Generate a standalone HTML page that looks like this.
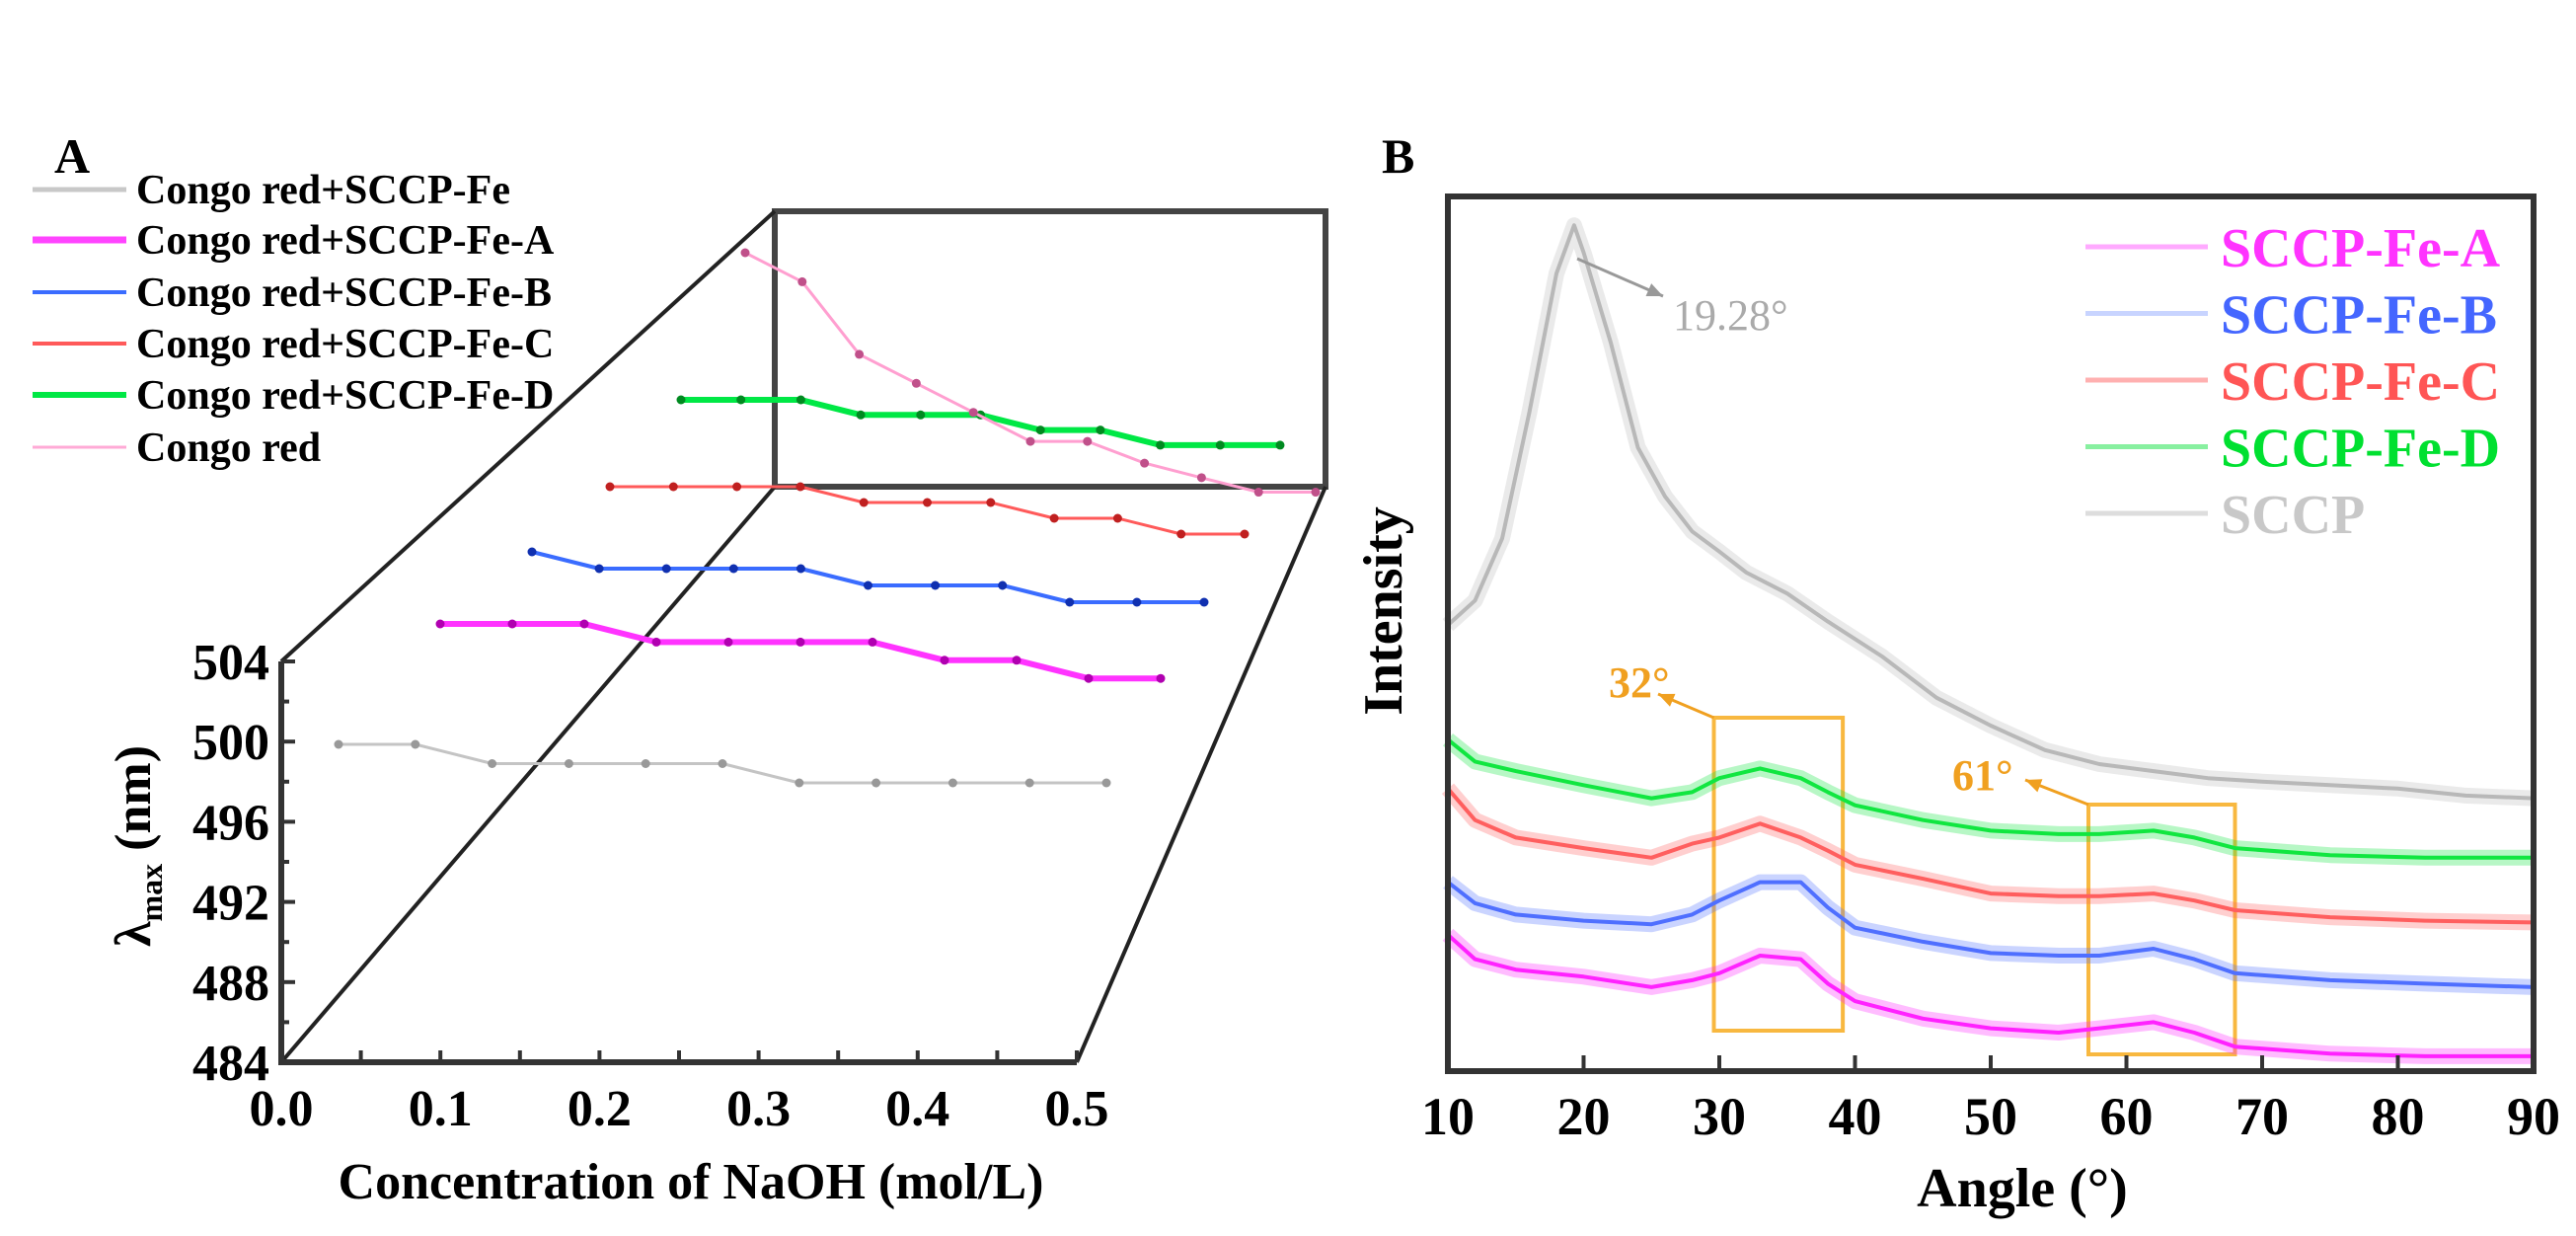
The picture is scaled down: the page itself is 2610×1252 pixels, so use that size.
<!DOCTYPE html>
<html><head><meta charset="utf-8"><style>
html,body{margin:0;padding:0;background:#fff;}
svg{display:block;font-family:"Liberation Serif",serif;font-weight:bold;}
</style></head><body>
<svg id="fig" width="2610" height="1252" viewBox="0 0 2610 1252">
<text x="55" y="175" font-size="50">A</text>
<text x="1400" y="175" font-size="50">B</text>
<g id="pa"></g>
<g id="pb"></g>
</svg>
<script>
// ---------- Panel A data ----------
const concentrations = [0,0.05,0.10,0.15,0.20,0.25,0.30,0.35,0.40,0.45,0.50];
const seriesNamesA = ["Congo red+SCCP-Fe","Congo red+SCCP-Fe-A","Congo red+SCCP-Fe-B","Congo red+SCCP-Fe-C","Congo red+SCCP-Fe-D","Congo red"];
const valsFe  = [500,500,499,499,499,499,498,498,498,498,498];
const valsFeA = [506,506,506,505,505,505,505,504,504,503,503];
const valsFeB = [507,506,506,506,506,505,505,505,504,504,504];
const valsFeC = [507,507,507,507,506,506,506,505,505,504,504];
const valsFeD = [508,508,508,507,507,507,506,506,505,505,505];
const valsCR  = [513,511,506,504,502,500,500,498.5,497.5,496.5,496.5];
const yTicksA = [484,488,492,496,500,504];
const xTicksA = [0,0.1,0.2,0.3,0.4,0.5];

// ---------- Panel B data ----------
const anglesSCCP = [10,12,14,16,18,19.3,20,22,24,26,28,30,32,35,38,42,46,50,54,58,62,66,70,75,80,85,90];
const intSCCP = [510,538,609,753,912,967,936,833,713,657,617,594,570,546,514,474,427,395,367,351,343,335,331,327,323,315,312];
const anglesFe = [10,12,15,20,25,28,30,33,36,38,40,45,50,55,58,62,65,68,75,82,90];
const intFeD = [379,354,343,327,312,319,335,346,335,319,304,287,275,271,271,275,267,255,247,244,244];
const intFeC = [323,287,267,255,244,260,267,283,267,252,236,220,203,200,200,203,195,184,176,172,170];
const intFeB = [216,192,179,172,168,179,195,216,216,187,164,148,135,132,132,140,128,112,104,100,96];
const intFeA = [156,128,116,108,96,104,112,132,128,100,80,60,49,44,49,56,44,28,20,17,17];
const xTicksB = [10,20,30,40,50,60,70,80,90];
const seriesNamesB = ["SCCP-Fe-A","SCCP-Fe-B","SCCP-Fe-C","SCCP-Fe-D","SCCP"];

const NS="http://www.w3.org/2000/svg";
function mk(parent,tag,attrs,text){const e=document.createElementNS(NS,tag);for(const k in attrs)e.setAttribute(k,attrs[k]);if(text!==undefined)e.textContent=text;parent.appendChild(e);return e;}

// ===== Panel A =====
const pa=document.getElementById('pa');
const AX0=285,AX1=1091,AY0=1076,AY1=670;
const axA=v=>AX0+(v-0)/0.5*(AX1-AX0);
const ayA=v=>AY0-(v-484)/20*(AY0-AY1);
const BF={l:785,r:1343,t:214,b:493};
let e;
e=mk(pa,'path',{d:`M${BF.l},${BF.b} L${BF.l},${BF.t} L${BF.r},${BF.t} L${BF.r},${BF.b} L${BF.l},${BF.b}`,fill:'none',stroke:'#444',"stroke-width":6});


e=mk(pa,'path',{d:`M${AX0},${AY1} L${BF.l},${BF.t} M${AX0},${AY0} L${BF.l},${BF.b} M${AX1},${AY0} L${BF.r},${BF.b}`,fill:'none',stroke:'#222',"stroke-width":4});


e=mk(pa,'path',{d:`M${AX0},${AY1} L${AX0},${AY0} L${AX1},${AY0}`,fill:'none',stroke:'#333',"stroke-width":6});


for(let v=484;v<=504;v+=2){
  const t=mk(pa,'line',{x1:AX0,x2:AX0+(v%4===0?14:8),y1:ayA(v),y2:ayA(v),stroke:'#333','stroke-width':4});
  
  
}
for(let v=0.05;v<0.5;v+=0.05){
  const t=mk(pa,'line',{x1:axA(v),x2:axA(v),y1:AY0,y2:AY0-12,stroke:'#333','stroke-width':4});
  
  
}
yTicksA.forEach(v=>{
  const t=mk(pa,'text',{x:AX0-12,y:ayA(v)+18,'font-size':52,'text-anchor':'end'},String(v));
  
  
});
xTicksA.forEach(v=>{
  const t=mk(pa,'text',{x:axA(v),y:1140,'font-size':52,'text-anchor':'middle'},v.toFixed(1));
  
  
});
e=mk(pa,'text',{x:700,y:1214,'font-size':52,'text-anchor':'middle'},'Concentration of NaOH (mol/L)');


e=mk(pa,'text',{transform:'translate(152,857) rotate(-90)','font-size':52,'text-anchor':'middle'});


mk(e,'tspan',{},'λ');mk(e,'tspan',{'font-size':32,dy:12},'max');mk(e,'tspan',{dy:-12},' (nm)');

const seriesA=[
 {vals:valsFe, color:'#c4c4c4',mark:'#999',w:3, x0:343,dx:77.8,refV:500,refY:754,ppn:19.5,name:'series-congo-red-sccp-fe'},
 {vals:valsFeA,color:'#ff33ff',mark:'#b000b0',w:6, x0:446,dx:73.0,refV:506,refY:632,ppn:18.4,name:'series-sccp-fe-a'},
 {vals:valsFeB,color:'#3a6cff',mark:'#1030b0',w:4, x0:539,dx:68.1,refV:506,refY:576,ppn:17,name:'series-sccp-fe-b'},
 {vals:valsFeC,color:'#ff5a5a',mark:'#c02020',w:3, x0:618,dx:64.3,refV:507,refY:493,ppn:16,name:'series-sccp-fe-c'},
 {vals:valsFeD,color:'#00e845',mark:'#008a20',w:6, x0:690,dx:60.7,refV:508,refY:405,ppn:15.3,name:'series-sccp-fe-d'},
 {vals:valsCR, color:'#ff9fd0',mark:'#c0508a',w:3, x0:755,dx:57.8,refV:513,refY:256,ppn:14.7,name:'series-congo-red'}
];
seriesA.forEach(s=>{
  const px=i=>s.x0+concentrations[i]/0.05*s.dx;
  const py=v=>s.refY-(v-s.refV)*s.ppn;
  const d=s.vals.map((v,i)=>(i?'L':'M')+px(i).toFixed(1)+','+py(v).toFixed(1)).join(' ');
  const l=mk(pa,'path',{d:d,fill:'none',stroke:s.color,'stroke-width':s.w,'stroke-linejoin':'round'});
  
  
  s.vals.forEach((v,i)=>{
    const c=mk(pa,'circle',{cx:px(i),cy:py(v),r:4.5,fill:s.mark});
    
    
  });
});
const legColA=['#c8c8c8','#ff44ff','#3a6cff','#ff5a5a','#00e845','#ffaad6'];
const legWA=[5,7,4,4,6,3];
const legY=[192,243,296,348,400,453];
seriesNamesA.forEach((n,i)=>{
  const g=mk(pa,'g',{});
  
  
  mk(g,'line',{x1:33,x2:128,y1:legY[i],y2:legY[i],stroke:legColA[i],'stroke-width':legWA[i]});
  mk(g,'text',{x:138,y:legY[i]+14,'font-size':42},n);
});

// ===== Panel B =====
const pb=document.getElementById('pb');
const BX0=1467,BX1=2567,BY0=1085,BY1=199;
const axB=a=>BX0+(a-10)/80*(BX1-BX0);
const ayB=v=>BY0-v/1000*(BY0-BY1);
e=mk(pb,'rect',{x:axB(29.6),y:727,width:axB(39.1)-axB(29.6),height:1044-727,fill:'none',stroke:'#f8b840','stroke-width':4});


e=mk(pb,'rect',{x:axB(57.2),y:815,width:axB(68)-axB(57.2),height:1068-815,fill:'none',stroke:'#f8b840','stroke-width':4});


const seriesB=[
 {a:anglesFe,v:intFeA,c:'#ff22ff',n:'series-sccp-fe-a'},
 {a:anglesFe,v:intFeB,c:'#4f6fff',n:'series-sccp-fe-b'},
 {a:anglesFe,v:intFeC,c:'#ff5f5f',n:'series-sccp-fe-c'},
 {a:anglesFe,v:intFeD,c:'#11e640',n:'series-sccp-fe-d'},
 {a:anglesSCCP,v:intSCCP,c:'#b8b8b8',n:'series-sccp'}
];
seriesB.forEach(s=>{
  const d=s.v.map((v,i)=>(i?'L':'M')+axB(s.a[i]).toFixed(1)+','+ayB(v).toFixed(1)).join(' ');
  const band=mk(pb,'path',{d:d,fill:'none',stroke:s.c,'stroke-width':16,'stroke-opacity':0.3,'stroke-linejoin':'round'});
  
  
  const l=mk(pb,'path',{d:d,fill:'none',stroke:s.c,'stroke-width':4,'stroke-linejoin':'round'});
  
  
});
e=mk(pb,'rect',{x:BX0,y:BY1,width:BX1-BX0,height:BY0-BY1,fill:'none',stroke:'#333','stroke-width':6});


xTicksB.forEach(v=>{
  const t=mk(pb,'line',{x1:axB(v),x2:axB(v),y1:BY0,y2:BY0-16,stroke:'#333','stroke-width':4});
  
  
  const tl=mk(pb,'text',{x:axB(v),y:1149,'font-size':54,'text-anchor':'middle'},String(v));
  
  
});
e=mk(pb,'text',{x:2049,y:1222,'font-size':56,'text-anchor':'middle'},'Angle (°)');


e=mk(pb,'text',{transform:'translate(1420,619) rotate(-90)','font-size':56,'text-anchor':'middle'},'Intensity');


function arrow(x1,y1,x2,y2,col,name){
  const g=mk(pb,'g',{});
  
  
  mk(g,'line',{x1:x1,y1:y1,x2:x2,y2:y2,stroke:col,'stroke-width':3});
  const ang=Math.atan2(y2-y1,x2-x1),L=16,W=7;
  const bx=x2-L*Math.cos(ang),by=y2-L*Math.sin(ang);
  mk(g,'polygon',{points:`${x2},${y2} ${bx-W*Math.sin(ang)},${by+W*Math.cos(ang)} ${bx+W*Math.sin(ang)},${by-W*Math.cos(ang)}`,fill:col});
}
arrow(1598,262,1685,300,'#999','peak-arrow');
e=mk(pb,'text',{x:1695,y:334,'font-size':44,fill:'#aaa','font-weight':'normal'},'19.28°');


arrow(axB(29.6),727,1680,703,'#f0a020','arrow-32');
e=mk(pb,'text',{x:1630,y:706,'font-size':44,fill:'#f0a020'},'32°');


arrow(axB(57.2),815,2052,790,'#f0a020','arrow-61');
e=mk(pb,'text',{x:1978,y:800,'font-size':44,fill:'#f0a020'},'61°');


const legColB=['#ff33ff','#4466ff','#ff5555','#00e030','#c8c8c8'];
const legLineB=['#ffaaff','#c8d4ff','#ffb0b0','#88f0a0','#dddddd'];
seriesNamesB.forEach((n,i)=>{
  const y=250+i*67.5;
  const g=mk(pb,'g',{});
  
  
  mk(g,'line',{x1:2113,x2:2237,y1:y,y2:y,stroke:legLineB[i],'stroke-width':5});
  mk(g,'text',{x:2250,y:y+20,'font-size':56,fill:legColB[i]},n);
});
</script>
</body></html>
